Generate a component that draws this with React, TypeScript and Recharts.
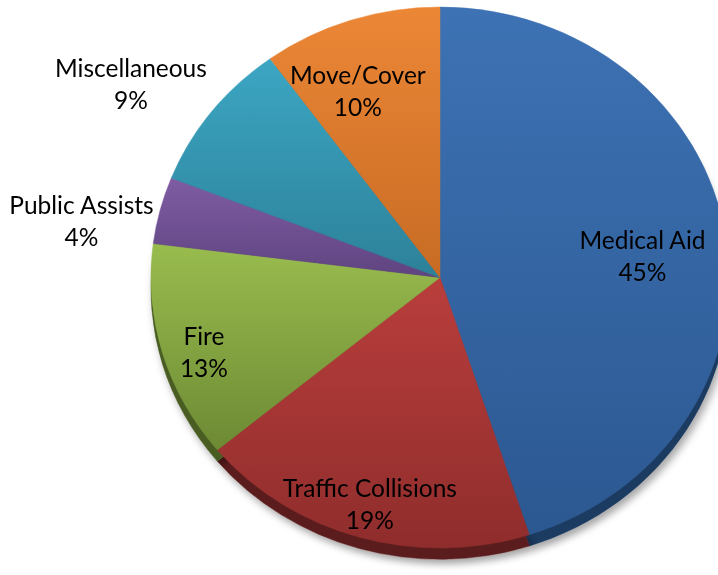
import React from 'react';
import { PieChart, Pie, Cell } from 'recharts';

const categories = ['Medical Aid', 'Traffic Collisions', 'Fire', 'Public Assists', 'Miscellaneous', 'Move/Cover'];
const shares = [45, 19, 13, 4, 9, 10];

const topColors = ['#3d72b4', '#b93e3c', '#99bc4e', '#7f5ca3', '#3ca6c3', '#ec8736'];
const bottomColors = ['#2c5891', '#8f2d2c', '#6d8a34', '#5f4480', '#2d8199', '#c76b24'];
const sideColors = ['#1d3a60', '#5a1b1b', '#485c22', '#3e2c55', '#1d5566', '#84471a'];

// label placement: radius factor + angle tweak (deg, clockwise from mid)
const labelPlace: Record<string, { k: number; da: number }> = {
    'Medical Aid': { k: 0.705, da: 2.5 },
    'Traffic Collisions': { k: 0.87, da: 0 },
    'Fire': { k: 0.862, da: -2.4 },
    'Public Assists': { k: 1.258, da: -4.8 },
    'Miscellaneous': { k: 1.287, da: -4 },
    'Move/Cover': { k: 0.749, da: -4.3 },
};

const data = categories.map((name, i) => ({ name, value: shares[i] }));

const SY = 0.936; // vertical squash of the tilted pie
const RADIAN = Math.PI / 180;

const renderLabel = (props: any) => {
    const { cx, cy, midAngle, outerRadius, name, value } = props;
    const place = labelPlace[name] || { k: 0.7, da: 0 };
    const angle = midAngle - place.da;
    const r = outerRadius * place.k;
    const x = cx + r * Math.cos(-angle * RADIAN);
    const y = cy + r * Math.sin(-angle * RADIAN);
    return (
        <g transform={`translate(${x},${y}) scale(1,${1 / SY})`}>
            <text textAnchor="middle" fill="#000" fontFamily="Lato, 'Open Sans', sans-serif" fontSize={24.5}>
                <tspan x={0} y={-16} dominantBaseline="central">{name}</tspan>
                <tspan x={0} y={16} dominantBaseline="central">{`${value}%`}</tspan>
            </text>
        </g>
    );
};

const App: React.FC = () => {
    const W = 718;
    const H = 575 / SY;
    const cx = 440;
    const cy = 296.5;
    const R = 289;

    return (
        <div style={{ position: 'absolute', left: 0, top: 0, width: 718, height: 575, overflow: 'hidden', background: '#fff' }}>
            <div style={{ transform: `scaleY(${SY})`, transformOrigin: 'top left', width: W, height: H }}>
                <PieChart width={W} height={H} margin={{ top: 0, right: 0, bottom: 0, left: 0 }}>
                    <defs>
                        {topColors.map((c, i) => (
                            <linearGradient key={`g${i}`} id={`grad${i}`} x1="0" y1="0" x2="0" y2="1">
                                <stop offset="0%" stopColor={c} />
                                <stop offset="100%" stopColor={bottomColors[i]} />
                            </linearGradient>
                        ))}
                        <filter id="pieShadow" x="-20%" y="-20%" width="140%" height="140%">
                            <feDropShadow dx="3" dy="5" stdDeviation="4" floodColor="#000" floodOpacity="0.35" />
                        </filter>
                    </defs>
                    <Pie
                        data={data}
                        dataKey="value"
                        nameKey="name"
                        cx={cx}
                        cy={cy + 12}
                        outerRadius={R}
                        startAngle={90}
                        endAngle={-270}
                        isAnimationActive={false}
                        label={false}
                        labelLine={false}
                    >
                        {data.map((entry, i) => (
                            <Cell key={`side-${i}`} fill={sideColors[i]} stroke={sideColors[i]} strokeWidth={0.5} filter="url(#pieShadow)" />
                        ))}
                    </Pie>
                    <Pie
                        data={data}
                        dataKey="value"
                        nameKey="name"
                        cx={cx}
                        cy={cy}
                        outerRadius={R}
                        startAngle={90}
                        endAngle={-270}
                        isAnimationActive={false}
                        label={renderLabel}
                        labelLine={false}
                    >
                        {data.map((entry, i) => (
                            <Cell key={`cell-${i}`} fill={`url(#grad${i})`} stroke={`url(#grad${i})`} strokeWidth={0.5} />
                        ))}
                    </Pie>
                </PieChart>
            </div>
        </div>
    );
};

export default App;
